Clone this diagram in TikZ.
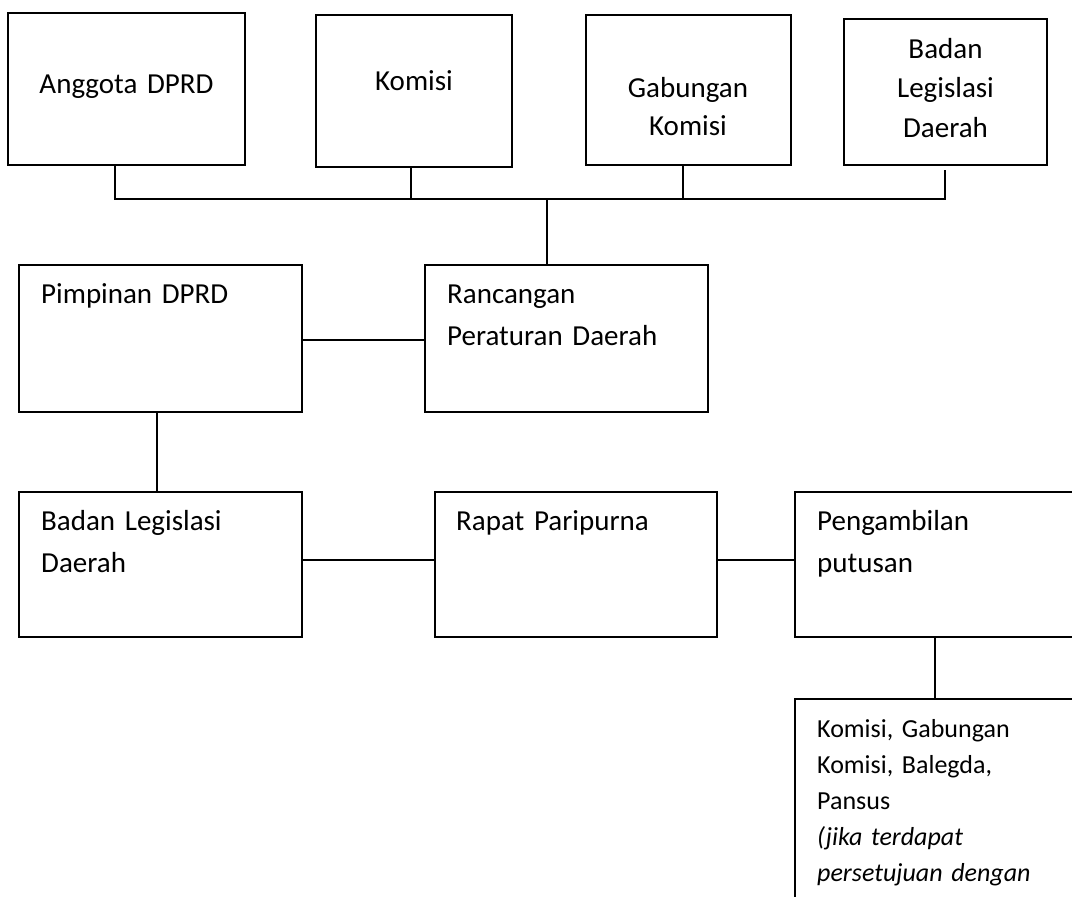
\documentclass[tikz,border=0pt]{standalone}
\usepackage{fontspec}
\setmainfont{Carlito}[WordSpace=0.8]
\begin{document}
\begin{tikzpicture}[x=1pt,y=-1pt,
  box/.style={draw, line width=1.5pt, inner sep=0pt, outer sep=0pt, anchor=north west},
  conn/.style={line width=1.5pt},
  ctxt/.style={inner sep=0pt, anchor=base, text width=230pt, align=center, font=\fontsize{29}{39.5}\selectfont},
  ltxt/.style={inner sep=0pt, anchor=base west, text width=270pt, align=left, font=\fontsize{29}{42}\selectfont},
  stxt/.style={inner sep=0pt, anchor=base west, text width=250pt, align=left, font=\fontsize{26}{36}\selectfont}]
\useasboundingbox (0,0) rectangle (1072,897);
\fill[white] (0,0) rectangle (1072,897);
\clip (0,0) rectangle (1072,897);

% top row
\node[box, minimum width=237pt, minimum height=152pt] (ang) at (8,13) {};
\node[box, minimum width=196pt, minimum height=152pt] (kom) at (316,15) {};
\node[box, minimum width=205pt, minimum height=150pt] (gab) at (586,15) {};
\node[box, minimum width=203pt, minimum height=146pt] (bld) at (844,19) {};
\node[ctxt] (tang) at (126.5,93) {Anggota DPRD};
\node[ctxt] (tkom) at (414,90) {Komisi};
\node[ctxt, font=\fontsize{29}{38}\selectfont] (tgab) at (688,97) {Gabungan\\Komisi};
\node[ctxt] (tbld) at (945.5,58) {Badan\\Legislasi\\Daerah};

% second row
\node[box, minimum width=283pt, minimum height=147pt] (pim) at (19,265) {};
\node[box, minimum width=283pt, minimum height=147pt] (ran) at (425,265) {};
\node[ltxt] (tpim) at (41,303) {Pimpinan DPRD};
\node[ltxt] (tran) at (447,303) {Rancangan\\Peraturan Daerah};

% third row
\node[box, minimum width=283pt, minimum height=145pt] (bl2) at (19,492) {};
\node[box, minimum width=282pt, minimum height=145pt] (rap) at (435,492) {};
\node[box, minimum width=330pt, minimum height=145pt] (pen) at (795,492) {};
\node[ltxt] (tbl2) at (41,530) {Badan Legislasi\\Daerah};
\node[ltxt] (trap) at (456,530) {Rapat Paripurna};
\node[ltxt] (tpen) at (817,530) {Pengambilan\\putusan};

% bottom box
\node[box, minimum width=330pt, minimum height=300pt] (kgb) at (795,699) {};
\node[stxt] (tkgb) at (817,737) {Komisi, Gabungan\\Komisi, Balegda,\\Pansus\\\textit{(jika terdapat}\\\textit{persetujuan dengan}};

% connectors
\coordinate (busL) at (115,199);
\coordinate (busR) at (945,199);
\coordinate (busM) at (547,199);
\draw[conn] ([xshift=-11.5pt]ang.south) -- (busL) -- (busR) -- ([yshift=-5pt]bld.south -| busR);
\draw[conn] ([xshift=-3pt]kom.south) -- ([xshift=-3pt]kom.south |- busL);
\draw[conn] ([xshift=-5.5pt]gab.south) -- ([xshift=-5.5pt]gab.south |- busL);
\draw[conn] (busM) -- (ran.north -| busM);
\draw[conn] ([yshift=-1.5pt]pim.east) -- ([yshift=-1.5pt]ran.west);
\draw[conn] ([xshift=-3.5pt]pim.south) -- ([xshift=-3.5pt]bl2.north);
\draw[conn] ([yshift=4.5pt]bl2.east) -- ([yshift=4.5pt]rap.west);
\draw[conn] ([yshift=4.5pt]rap.east) -- ([yshift=4.5pt]pen.west);
\coordinate (pdrop) at (935,637);
\draw[conn] (pen.south -| pdrop) -- (kgb.north -| pdrop);
\end{tikzpicture}
\end{document}
